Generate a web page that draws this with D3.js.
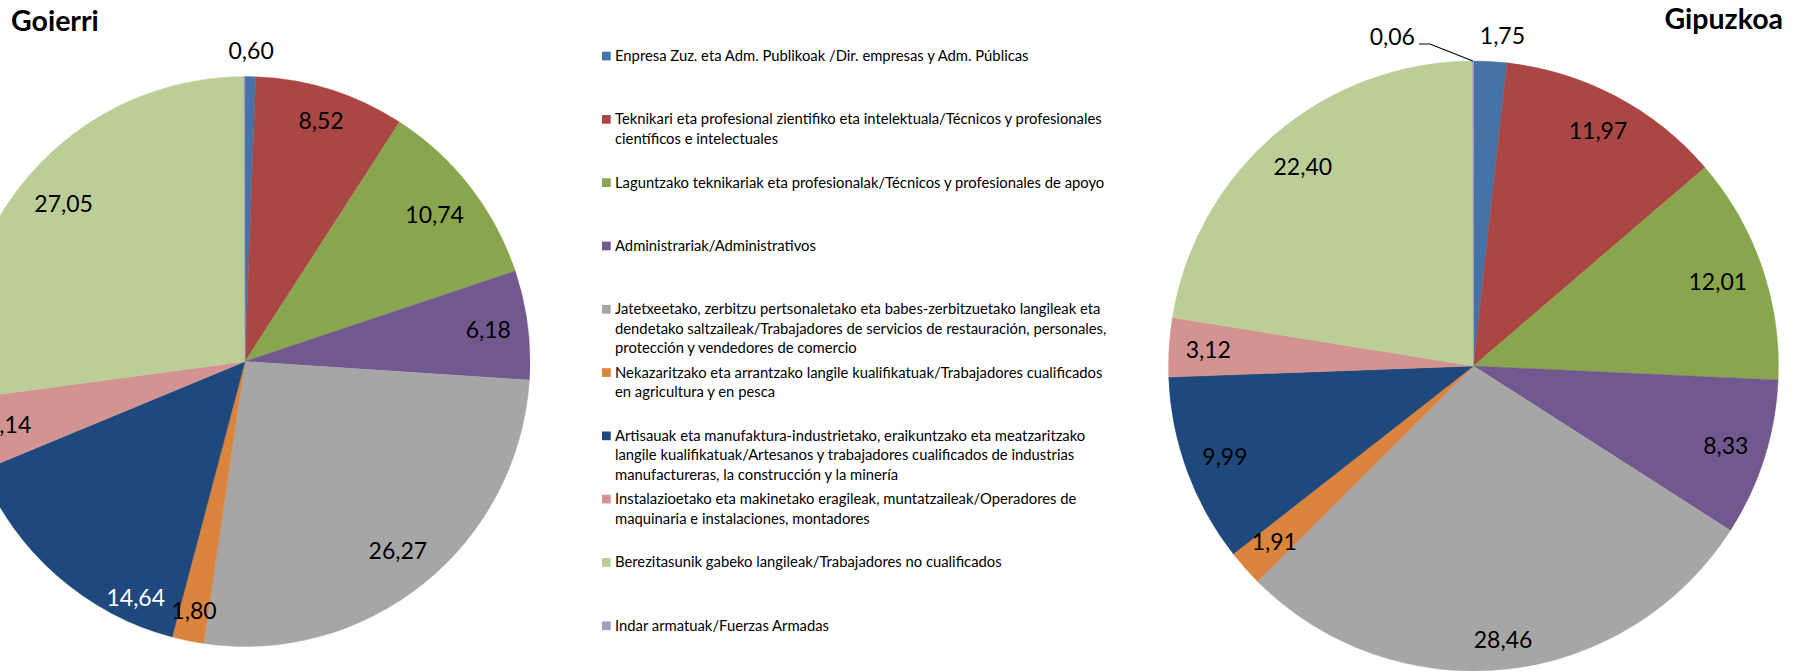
<!DOCTYPE html>
<html lang="en">
<head>
    <meta charset="UTF-8">
    <title>Goierri - Gipuzkoa</title>
    <script src="https://cdnjs.cloudflare.com/ajax/libs/d3/7.8.5/d3.min.js"></script>
    <style>
        body { margin: 0; background: #ffffff; }
        svg { display: block; font-family: Lato, "Open Sans", sans-serif; }
    </style>
</head>
<body>
<script>
    var width = 1800;
    var height = 671;

    // legend text, one array of wrapped lines per category
    var categories = [
        ["Enpresa Zuz. eta Adm. Publikoak /Dir. empresas y Adm. Públicas"],
        ["Teknikari eta profesional zientifiko eta intelektuala/Técnicos y profesionales",
            "científicos e intelectuales"],
        ["Laguntzako teknikariak eta profesionalak/Técnicos y profesionales de apoyo"],
        ["Administrariak/Administrativos"],
        ["Jatetxeetako, zerbitzu pertsonaletako eta babes-zerbitzuetako langileak eta",
            "dendetako saltzaileak/Trabajadores de servicios de restauración, personales,",
            "protección y vendedores de comercio"],
        ["Nekazaritzako eta arrantzako langile kualifikatuak/Trabajadores cualificados",
            "en agricultura y en pesca"],
        ["Artisauak eta manufaktura-industrietako, eraikuntzako eta meatzaritzako",
            "langile kualifikatuak/Artesanos y trabajadores cualificados de industrias",
            "manufactureras, la construcción y la minería"],
        ["Instalazioetako eta makinetako eragileak, muntatzaileak/Operadores de",
            "maquinaria e instalaciones, montadores"],
        ["Berezitasunik gabeko langileak/Trabajadores no cualificados"],
        ["Indar armatuak/Fuerzas Armadas"]
    ];

    var goierri_values = [0.60, 8.52, 10.74, 6.18, 26.27, 1.80, 14.64, 4.14, 27.05, 0.06];
    var gipuzkoa_values = [1.75, 11.97, 12.01, 8.33, 28.46, 1.91, 9.99, 3.12, 22.40, 0.06];

    var colors = ["#4572A7", "#AA4643", "#89A54E", "#71588F", "#A6A6A6",
        "#DB843D", "#1F497D", "#D39391", "#BBCE97", "#A99BBD"];

    var color = d3.scaleOrdinal()
        .domain(d3.range(categories.length))
        .range(colors);

    var locale = d3.formatLocale({decimal: ",", thousands: ".", grouping: [3], currency: ["", "€"]});
    var fmt = locale.format(".2f");

    var svg = d3.select("body").append("svg")
        .attr("width", width)
        .attr("height", height)
        .attr("viewBox", [0, 0, width, height]);

    var pie = d3.pie().sort(null).value(function (d) { return d; });

    var charts = [
        {
            title: "Goierri", values: goierri_values,
            cx: 245, cy: 361.5, r: 285,
            titleX: 11, titleY: 31, titleAnchor: "start",
            outside: [0], hidden: [9], white: [6],
            shift: {6: -16.3}, radius: {6: 260}, nudge: {}, leader: {}
        },
        {
            title: "Gipuzkoa", values: gipuzkoa_values,
            cx: 1473.5, cy: 366, r: 305,
            titleX: 1783, titleY: 28.5, titleAnchor: "end",
            outside: [0], hidden: [], white: [],
            shift: {}, radius: {}, nudge: {0: 10}, leader: {9: true}
        }
    ];

    charts.forEach(function (c) {
        var g = svg.append("g")
            .attr("transform", "translate(" + c.cx + "," + c.cy + ")");

        var arc = d3.arc().innerRadius(0).outerRadius(c.r);
        var arcs = pie(c.values);

        g.selectAll("path")
            .data(arcs)
            .enter().append("path")
            .attr("d", arc)
            .attr("fill", function (d, i) { return color(i); })
            .attr("stroke", function (d, i) { return color(i); })
            .attr("stroke-width", 0.4);

        var labels = g.append("g");
        arcs.forEach(function (d, i) {
            if (c.hidden.indexOf(i) >= 0) return;

            var txt = labels.append("text")
                .attr("font-size", "23px")
                .attr("fill", c.white.indexOf(i) >= 0 ? "#ffffff" : "#000000")
                .attr("dy", "0.36em")
                .text(fmt(d.data));

            var w = txt.node().getComputedTextLength();
            var h = 18;
            var a = (d.startAngle + d.endAngle) / 2 + (c.shift[i] || 0) * Math.PI / 180;
            var ux = Math.sin(a), uy = -Math.cos(a);
            var x, y;

            if (c.leader[i]) {
                // small slice, label pulled to the left with a leader line
                var ex = c.r * ux, ey = c.r * uy;
                labels.append("polyline")
                    .attr("points", [[ex, ey], [ex - 43, ey - 17], [ex - 54, ey - 17]].join(" "))
                    .attr("fill", "none")
                    .attr("stroke", "#000000")
                    .attr("stroke-width", 1.2);
                txt.attr("text-anchor", "end")
                    .attr("x", ex - 58)
                    .attr("y", ey - 24);
                return;
            }

            if (c.outside.indexOf(i) >= 0) {
                x = (c.r + 17) * ux + ux * w / 2;
                y = (c.r + 17) * uy + uy * h / 2;
            } else if (c.radius[i]) {
                x = c.radius[i] * ux;
                y = c.radius[i] * uy;
            } else {
                // push the label box out until its far corner touches the inner margin
                var sx = (ux < 0 ? -1 : 1) * w / 2;
                var sy = (uy < 0 ? -1 : 1) * h / 2;
                var R = c.r - 16;
                var us = ux * sx + uy * sy;
                var t = -us + Math.sqrt(us * us - (sx * sx + sy * sy) + R * R);
                x = t * ux;
                y = t * uy;
            }
            x += (c.nudge[i] || 0);

            txt.attr("text-anchor", "middle")
                .attr("x", x)
                .attr("y", y);
        });

        svg.append("text")
            .attr("x", c.titleX)
            .attr("y", c.titleY)
            .attr("text-anchor", c.titleAnchor)
            .attr("font-size", "28.5px")
            .attr("font-weight", "bold")
            .attr("fill", "#000000")
            .text(c.title);
    });

    // legend in the middle
    var legend_x = 602;
    var legend_y = 56;
    var legend_step = 63.3;
    var line_height = 19.5;

    var legend = svg.append("g");
    categories.forEach(function (lines, i) {
        var y0 = legend_y + i * legend_step;
        legend.append("rect")
            .attr("x", legend_x)
            .attr("y", y0 - 4.3)
            .attr("width", 8.7)
            .attr("height", 8.7)
            .attr("fill", color(i));

        var t = legend.append("text")
            .attr("x", legend_x + 13)
            .attr("y", y0 + 5)
            .attr("font-size", "14.8px")
            .attr("fill", "#000000");

        lines.forEach(function (line, j) {
            t.append("tspan")
                .attr("x", legend_x + 13)
                .attr("dy", j == 0 ? 0 : line_height)
                .text(line);
        });
    });
</script>
</body>
</html>
